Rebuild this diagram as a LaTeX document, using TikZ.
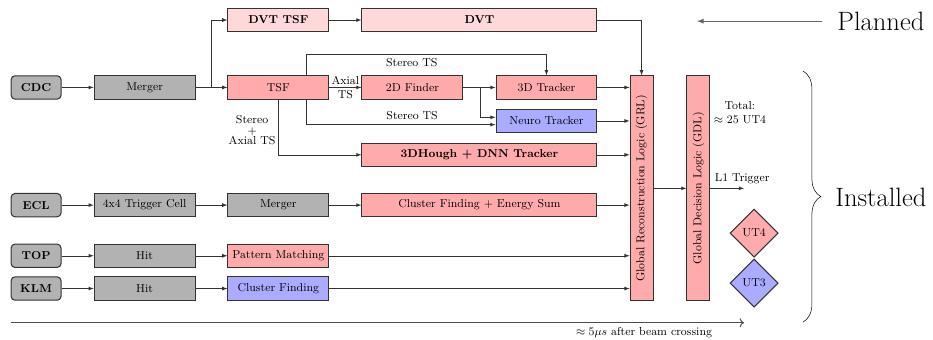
\documentclass[tikz,border=0pt]{standalone}
\usepackage{amsmath}
\usepackage{graphicx}
\usepackage{tikz}
\usetikzlibrary{shapes.geometric, arrows, arrows.meta, positioning, decorations.pathreplacing}
\tikzstyle{arrow} = [->,>=latex, draw=black!80]

\begin{document}
\begin{tikzpicture}[
        font=\small,
        det/.style={draw=black!80, fill=gray!60, rounded corners=3pt, thick, minimum width=1.37cm, minimum height=0.64cm, font=\small\bfseries},
        proc/.style={draw=black!80, fill=gray!60, thick, minimum width=2.77cm, minimum height=0.64cm},
        trig/.style={proc, fill=red!33},
        plan/.style={proc, fill=red!15, font=\small\bfseries},
        nn/.style={proc, fill=blue!33},
        wide/.style={minimum width=6.45cm},
        logic/.style={draw=black!80, fill=red!33, thick, minimum width=0.63cm, minimum height=6.18cm, inner sep=0pt},
        ut/.style={diamond, draw=black!80, thick, minimum width=1.32cm, minimum height=1.32cm, inner sep=0pt},
    ]
        \useasboundingbox (0,0) rectangle (25.61,-9.31);

        % detectors
        \node[det] (cdc) at (0.99,-2.40) {CDC};
        \node[det] (ecl) at (0.99,-5.63) {ECL};
        \node[det] (top) at (0.99,-7.02) {TOP};
        \node[det] (klm) at (0.99,-7.92) {KLM};

        % CDC chain
        \node[proc] (cdcmerger) at (3.97,-2.40) {Merger};
        \node[trig] (tsf) at (7.64,-2.40) {TSF};
        \node[plan] (dvttsf) at (7.64,-0.55) {DVT TSF};
        \node[plan, wide] (dvt) at (13.16,-0.55) {DVT};
        \node[trig] (finder) at (11.32,-2.40) {2D Finder};
        \node[trig] (tdtrk) at (15.00,-2.40) {3D Tracker};
        \node[nn] (neuro) at (15.00,-3.32) {Neuro Tracker};
        \node[trig, wide, font=\small\bfseries] (hough) at (13.16,-4.25) {3DHough + DNN Tracker};

        % ECL, TOP, KLM chains
        \node[proc] (cell) at (3.97,-5.63) {4x4 Trigger Cell};
        \node[proc] (eclmerger) at (7.64,-5.63) {Merger};
        \node[trig, wide] (clusum) at (13.16,-5.63) {Cluster Finding + Energy Sum};
        \node[proc] (tophit) at (3.97,-7.02) {Hit};
        \node[trig] (pattern) at (7.64,-7.02) {Pattern Matching};
        \node[proc] (klmhit) at (3.97,-7.92) {Hit};
        \node[nn] (klmclu) at (7.64,-7.92) {Cluster Finding};

        % global logic
        \node[logic] (grl) at (17.61,-5.17) {\rotatebox{90}{Global Reconstruction Logic (GRL)}};
        \node[logic] (gdl) at (19.17,-5.17) {\rotatebox{90}{Global Decision Logic (GDL)}};
        \node[align=center] (total) at (20.31,-3.10) {Total:\\$\approx$ 25 UT4};
        \node[ut, fill=red!33] (ut4) at (20.70,-6.40) {UT4};
        \node[ut, fill=blue!33] (ut3) at (20.70,-7.77) {UT3};

        \node[font=\huge] (planned) at (24.18,-0.58) {Planned};
        \node[font=\huge] (installed) at (24.18,-5.41) {Installed};

        \coordinate (split) at (5.79,-2.40);
        \coordinate (nsplit) at (13.18,-2.40);
        \coordinate (stup) at (8.40,-1.48);
        \coordinate (l1end) at (20.42,-5.17);
        \coordinate (plannedend) at (19.13,-0.58);
        \coordinate (t0) at (0.30,-8.86);
        \coordinate (t1) at (20.42,-8.86);

        \draw[arrow] (cdc) -- (cdcmerger);
        \draw[arrow] (cdcmerger) -- (tsf);
        \draw[arrow] (split) |- (dvttsf);
        \draw[arrow] (dvttsf) -- (dvt);
        \draw[arrow] (dvt.east) -| (grl.north);
        \draw[arrow] (tsf) -- node[align=center] {Axial\\TS} (finder);
        \draw[arrow] (finder) -- (tdtrk);
        \draw[arrow] (nsplit) |- ([yshift=0.1cm]neuro.west);
        \draw[arrow] (stup |- tsf.north) -- (stup) -| node[below, pos=0.22] {Stereo TS} (tdtrk.north);
        \draw[arrow] (stup |- tsf.south) |- node[above, pos=0.78] {Stereo TS} ([yshift=-0.1cm]neuro.west);
        \draw[arrow] (tsf.south) |- (hough.west);
        \node[align=center, inner sep=0pt] (stax) at (6.92,-3.57) {Stereo\\[-3pt]+\\[-3pt]Axial TS};

        \draw[arrow] (ecl) -- (cell);
        \draw[arrow] (cell) -- (eclmerger);
        \draw[arrow] (eclmerger) -- (clusum);
        \draw[arrow] (top) -- (tophit);
        \draw[arrow] (tophit) -- (pattern);
        \draw[arrow] (klm) -- (klmhit);
        \draw[arrow] (klmhit) -- (klmclu);

        \foreach \src in {tdtrk, neuro, hough, clusum, pattern, klmclu}
            \draw[arrow] (\src.east) -- (\src.east -| grl.west);

        \draw[arrow] (grl) -- (gdl);
        \draw[arrow] (gdl.east) -- node[above right, pos=0] {L1 Trigger} (l1end);

        \draw[arrow, thick, draw=black!60] ([xshift=-0.3cm]planned.west) -- (plannedend);
        \draw[decorate, decoration={brace, amplitude=14pt}] (22.04,-1.95) -- (22.04,-8.84);

        \draw[->, thick, draw=black!70] (t0) -- node[anchor=north east, pos=0.963] {$\approx 5\mu s$ after beam crossing} (t1);
    \end{tikzpicture}
\end{document}
